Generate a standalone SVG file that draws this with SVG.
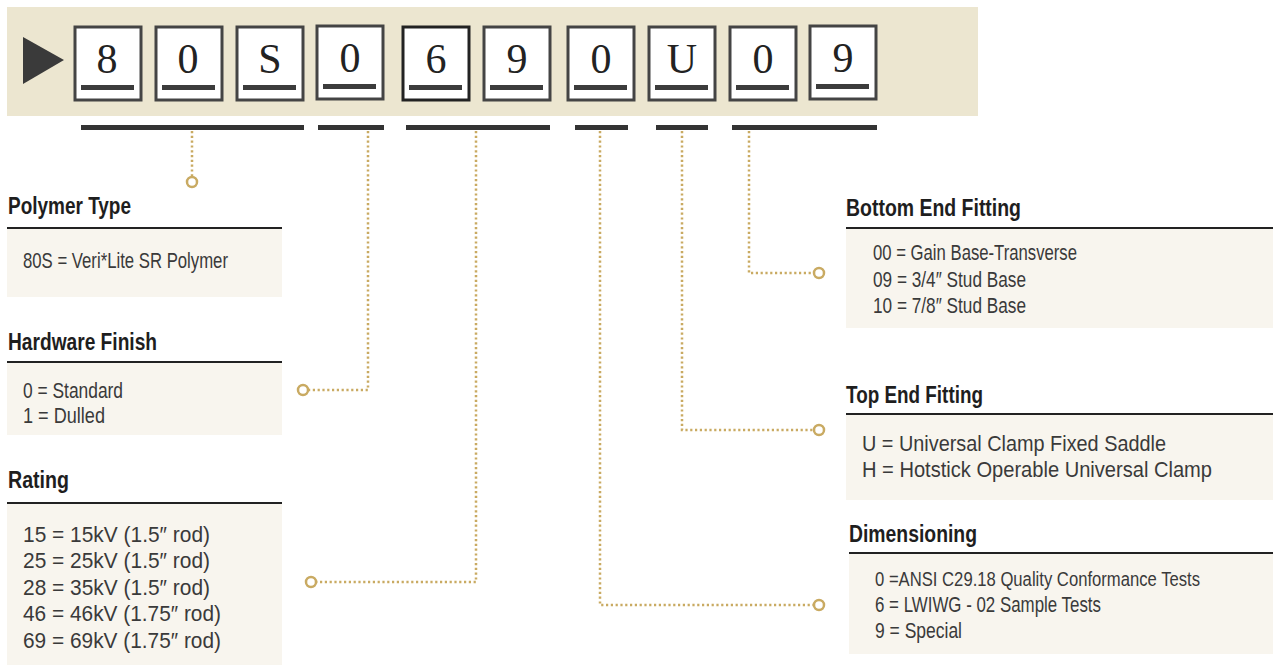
<svg xmlns="http://www.w3.org/2000/svg" width="1273" height="666" viewBox="0 0 1273 666">
<style>
.band{fill:#ece6d0}
.box{fill:#fff;stroke:#444;stroke-width:3}
.ul{fill:#3c3c3c}
.dig{font-family:"Liberation Serif",serif;font-size:42px;fill:#222;text-anchor:middle}
.bar{fill:#333}
.panel{fill:#f8f5ee}
.rule{stroke:#222;stroke-width:2}
.ttl{font-family:"Liberation Sans",Arial,sans-serif;font-weight:bold;font-size:23px;fill:#1e1e1e}
.txt{font-family:"Liberation Sans",Arial,sans-serif;font-size:22px;fill:#3a3a3a}
.con{fill:none;stroke:#c9aa62;stroke-width:2.5;stroke-dasharray:2.2 2.6}
.dot{fill:#fff;stroke:#c9aa62;stroke-width:2.5}
</style>
<g id="code">
<rect class="band" x="7" y="7" width="971" height="109"/>
<polygon points="23,37 64,60 23,84" fill="#3a3a3a"/>
<g id="c1"><rect class="box" x="75" y="27" width="66" height="73"/><rect class="ul" x="81" y="85" width="53" height="5"/><text class="dig" x="107" y="73">8</text></g>
<g id="c2"><rect class="box" x="156" y="27" width="66" height="73"/><rect class="ul" x="162" y="85" width="53" height="5"/><text class="dig" x="188" y="73">0</text></g>
<g id="c3"><rect class="box" x="237" y="27" width="66" height="73"/><rect class="ul" x="243" y="85" width="53" height="5"/><text class="dig" x="270" y="73">S</text></g>
<g id="c4"><rect class="box" x="317" y="26" width="66" height="73"/><rect class="ul" x="323" y="84" width="53" height="5"/><text class="dig" x="350" y="72">0</text></g>
<g id="c5"><rect class="box" x="403" y="27" width="66" height="73" style="stroke:#222"/><rect class="ul" x="409" y="85" width="53" height="5"/><text class="dig" x="436" y="73">6</text></g>
<g id="c6"><rect class="box" x="484" y="27" width="66" height="73"/><rect class="ul" x="490" y="85" width="53" height="5"/><text class="dig" x="517" y="73">9</text></g>
<g id="c7"><rect class="box" x="568" y="27" width="66" height="73"/><rect class="ul" x="574" y="85" width="53" height="5"/><text class="dig" x="601" y="73">0</text></g>
<g id="c8"><rect class="box" x="649" y="27" width="66" height="73"/><rect class="ul" x="655" y="85" width="53" height="5"/><text class="dig" x="682" y="73">U</text></g>
<g id="c9"><rect class="box" x="730" y="27" width="66" height="73"/><rect class="ul" x="736" y="85" width="53" height="5"/><text class="dig" x="763" y="73">0</text></g>
<g id="c10"><rect class="box" x="810" y="26" width="66" height="73"/><rect class="ul" x="816" y="84" width="53" height="5"/><text class="dig" x="843" y="72">9</text></g>
</g>
<g id="bars">
<rect class="bar" x="81" y="125" width="223" height="5"/>
<rect class="bar" x="318" y="125" width="66" height="5"/>
<rect class="bar" x="406" y="125" width="144" height="5"/>
<rect class="bar" x="575" y="125" width="53" height="5"/>
<rect class="bar" x="656" y="125" width="52" height="5"/>
<rect class="bar" x="732" y="125" width="145" height="5"/>
</g>
<g id="connectors">
<path class="con" d="M192,131 V177"/>
<circle class="dot" cx="192" cy="182" r="5"/>
<path class="con" d="M368,131 V390 H309"/>
<circle class="dot" cx="303" cy="390" r="5"/>
<path class="con" d="M476,131 V582 H317"/>
<circle class="dot" cx="311" cy="582" r="5"/>
<path class="con" d="M600,131 V605 H813"/>
<circle class="dot" cx="819" cy="605" r="5"/>
<path class="con" d="M682,131 V430 H813"/>
<circle class="dot" cx="819" cy="430" r="5"/>
<path class="con" d="M749,131 V273 H813"/>
<circle class="dot" cx="819" cy="273" r="5"/>
</g>
<g id="polymer">
<rect class="panel" x="7" y="229" width="275" height="68"/>
<line class="rule" x1="7" y1="228" x2="282" y2="228"/>
<text class="ttl" x="8" y="214" textLength="123" lengthAdjust="spacingAndGlyphs">Polymer Type</text>
<text class="txt" x="23" y="268" textLength="205" lengthAdjust="spacingAndGlyphs">80S = Veri*Lite SR Polymer</text>
</g>
<g id="hardware">
<rect class="panel" x="7" y="363" width="275" height="72"/>
<line class="rule" x1="7" y1="362" x2="282" y2="362"/>
<text class="ttl" x="8" y="350" textLength="149" lengthAdjust="spacingAndGlyphs">Hardware Finish</text>
<text class="txt" x="23" y="398" textLength="100" lengthAdjust="spacingAndGlyphs">0 = Standard</text>
<text class="txt" x="23" y="423" textLength="82" lengthAdjust="spacingAndGlyphs">1 = Dulled</text>
</g>
<g id="rating">
<rect class="panel" x="7" y="504" width="275" height="161"/>
<line class="rule" x1="7" y1="503" x2="282" y2="503"/>
<text class="ttl" x="8" y="488" textLength="61" lengthAdjust="spacingAndGlyphs">Rating</text>
<text class="txt" x="23" y="542" textLength="187" lengthAdjust="spacingAndGlyphs">15 = 15kV (1.5″ rod)</text>
<text class="txt" x="23" y="568" textLength="187" lengthAdjust="spacingAndGlyphs">25 = 25kV (1.5″ rod)</text>
<text class="txt" x="23" y="595" textLength="187" lengthAdjust="spacingAndGlyphs">28 = 35kV (1.5″ rod)</text>
<text class="txt" x="23" y="621" textLength="198" lengthAdjust="spacingAndGlyphs">46 = 46kV (1.75″ rod)</text>
<text class="txt" x="23" y="648" textLength="198" lengthAdjust="spacingAndGlyphs">69 = 69kV (1.75″ rod)</text>
</g>
<g id="bottom">
<rect class="panel" x="846" y="229" width="427" height="99"/>
<line class="rule" x1="846" y1="228" x2="1273" y2="228"/>
<text class="ttl" x="846" y="216" textLength="175" lengthAdjust="spacingAndGlyphs">Bottom End Fitting</text>
<text class="txt" x="873" y="260" textLength="204" lengthAdjust="spacingAndGlyphs">00 = Gain Base-Transverse</text>
<text class="txt" x="873" y="287" textLength="153" lengthAdjust="spacingAndGlyphs">09 = 3/4″ Stud Base</text>
<text class="txt" x="873" y="313" textLength="153" lengthAdjust="spacingAndGlyphs">10 = 7/8″ Stud Base</text>
</g>
<g id="top">
<rect class="panel" x="846" y="415" width="427" height="85"/>
<line class="rule" x1="846" y1="414" x2="1273" y2="414"/>
<text class="ttl" x="846" y="403" textLength="137" lengthAdjust="spacingAndGlyphs">Top End Fitting</text>
<text class="txt" x="862" y="451" textLength="304" lengthAdjust="spacingAndGlyphs">U = Universal Clamp Fixed Saddle</text>
<text class="txt" x="862" y="477" textLength="350" lengthAdjust="spacingAndGlyphs">H = Hotstick Operable Universal Clamp</text>
</g>
<g id="dimensioning">
<rect class="panel" x="849" y="554" width="424" height="100"/>
<line class="rule" x1="849" y1="553" x2="1273" y2="553"/>
<text class="ttl" x="849" y="542" textLength="128" lengthAdjust="spacingAndGlyphs">Dimensioning</text>
<text class="txt" x="875" y="586" style="font-size:20px" textLength="325" lengthAdjust="spacingAndGlyphs">0 =ANSI C29.18 Quality Conformance Tests</text>
<text class="txt" x="875" y="612" textLength="226" lengthAdjust="spacingAndGlyphs">6 = LWIWG - 02 Sample Tests</text>
<text class="txt" x="875" y="638" textLength="87" lengthAdjust="spacingAndGlyphs">9 = Special</text>
</g>
</svg>
